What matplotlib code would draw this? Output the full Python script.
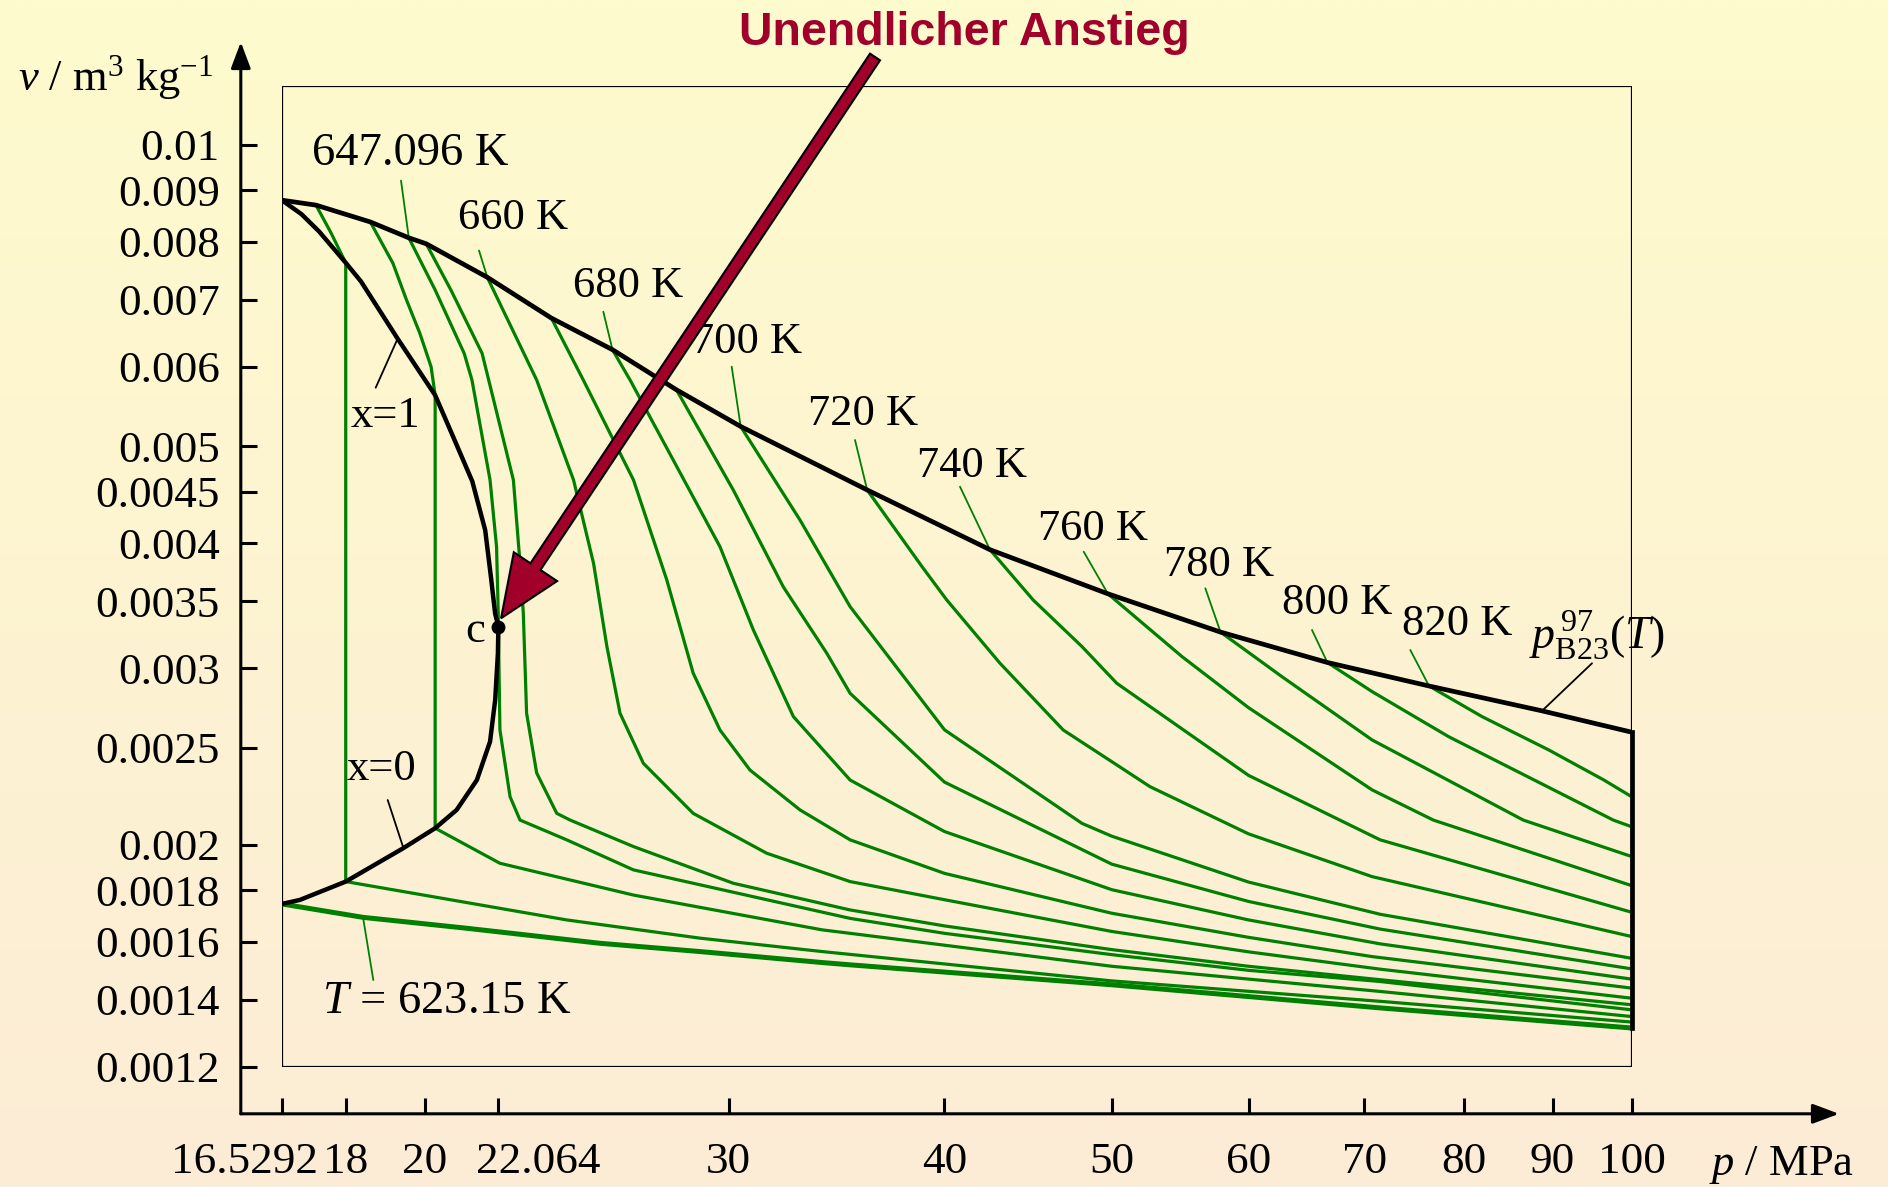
import numpy as np
import matplotlib
matplotlib.use("Agg")
import matplotlib.pyplot as plt
from matplotlib.patches import FancyArrow, Rectangle
from matplotlib.ticker import NullLocator
from matplotlib.transforms import IdentityTransform, ScaledTranslation

plt.rcParams['font.family'] = ['Liberation Serif', 'DejaVu Serif']
plt.rcParams['mathtext.fontset'] = 'custom'
plt.rcParams['mathtext.rm'] = 'Liberation Serif'
plt.rcParams['mathtext.it'] = 'Liberation Serif:italic'
plt.rcParams['mathtext.bf'] = 'Liberation Serif:bold'

W, H = 1888, 1187
GREEN = '#008000'
RED = '#A0002A'

# axis ticks (p in MPa, v in m3/kg)
x_ticks = [16.5292, 18, 20, 22.064, 30, 40, 50, 60, 70, 80, 90, 100]
x_labels = ['16.5292', '18', '20', '22.064', '30', '40', '50', '60', '70', '80', '90', '100']
y_ticks = [0.0012, 0.0014, 0.0016, 0.0018, 0.002, 0.0025, 0.003, 0.0035,
           0.004, 0.0045, 0.005, 0.006, 0.007, 0.008, 0.009, 0.01]
y_labels = ['0.0012', '0.0014', '0.0016', '0.0018', '0.002', '0.0025', '0.003', '0.0035',
            '0.004', '0.0045', '0.005', '0.006', '0.007', '0.008', '0.009', '0.01']

# boundary B23 (upper edge of region 3)
p_b23 = [16.5292, 17.30, 18.60, 19.58, 20.04, 21.74, 23.68, 25.69, 27.98, 30.48,
         36.08, 42.50, 49.74, 57.80, 66.65, 76.33, 88.74, 100.0]
v_b23 = [0.00880, 0.00870, 0.00837, 0.00807, 0.00796, 0.00737, 0.00671, 0.00624, 0.00569, 0.00523,
         0.00452, 0.00394, 0.00356, 0.00326, 0.00304, 0.00288, 0.00272, 0.00259]

# saturation lines
p_liq = [16.5292, 16.93, 18.0, 19.44, 20.28, 20.87, 21.44, 21.82, 21.97, 22.05, 22.064]
v_liq = [0.001745, 0.001761, 0.001837, 0.001984, 0.002077, 0.002166, 0.002320, 0.002534,
         0.002789, 0.003105, 0.003301]
p_vap = [16.5292, 16.97, 17.37, 18.0, 18.37, 19.29, 20.28, 20.73, 21.31, 21.68, 21.85, 21.97, 22.064]
v_vap = [0.00880, 0.00852, 0.00819, 0.00762, 0.00730, 0.00640, 0.00562, 0.00515, 0.00461,
         0.00412, 0.00369, 0.00340, 0.003301]

p_crit, v_crit = 22.064, 0.003301

# isotherms
p_623 = [16.5292, 18.42, 21.16, 25.27, 28.87, 33.98, 35.27, 40.0, 50.0, 71.51, 100]
v_623 = [0.001745, 0.001692, 0.001650, 0.001594, 0.001564, 0.001525, 0.001517, 0.001492, 0.001449,
         0.001374, 0.001312]
p_630 = [17.30, 17.64, 18.0, 18.0, 20.23, 24.17, 28.87, 33.98, 50.0, 71.51, 100]
v_630 = [0.00870, 0.008178, 0.00762, 0.001837, 0.001774, 0.001682, 0.001613, 0.001564, 0.001462,
         0.001395, 0.001330]
p_640 = [18.60, 19.17, 19.52, 19.87, 20.17, 20.28, 20.28, 22.11, 26.42, 33.98, 35.27, 50.0, 71.51, 100]
v_640 = [0.00837, 0.007611, 0.006995, 0.006480, 0.006000, 0.00562, 0.002077, 0.001916, 0.001781,
         0.001644, 0.001631, 0.001512, 0.001427, 0.001347]
p_647 = [19.58, 20.28, 21.08, 21.30, 21.82, 22.01, 22.06, 22.064, 22.11, 22.41, 22.71, 24.17, 26.42,
         35.27, 40.0, 50.0, 60.0, 71.51, 100]
v_647 = [0.00807, 0.007158, 0.006188, 0.005820, 0.004625, 0.003967, 0.003404, 0.003301, 0.002603,
         0.002233, 0.002116, 0.002022, 0.001887, 0.001688, 0.001631, 0.001553, 0.001498, 0.001460,
         0.001368]
p_650 = [20.04, 20.71, 21.59, 22.51, 22.71, 22.81, 22.91, 23.22, 23.85, 24.28, 26.42, 30.18, 35.27,
         40.0, 50.0, 60.0, 71.51, 100]
v_650 = [0.00796, 0.007158, 0.006188, 0.004625, 0.003818, 0.003404, 0.002705, 0.002358, 0.002149,
         0.002116, 0.001991, 0.001830, 0.001721, 0.001659, 0.001571, 0.001512, 0.001466, 0.001384]
p_660 = [21.74, 23.22, 24.39, 25.05, 25.50, 25.95, 26.77, 28.61, 31.55, 35.27, 40.0, 50.0, 60.0,
         71.51, 100]
v_660 = [0.00737, 0.005820, 0.004625, 0.003818, 0.003153, 0.002705, 0.002411, 0.002149, 0.001961,
         0.001837, 0.001762, 0.001638, 0.001563, 0.001502, 0.001405]
p_670 = [23.68, 24.71, 26.42, 27.62, 28.61, 29.65, 30.86, 32.99, 35.27, 40.0, 50.0, 60.0, 70.75, 100]
v_670 = [0.00671, 0.005820, 0.004625, 0.003675, 0.002966, 0.002603, 0.002374, 0.002166, 0.002022,
         0.001872, 0.001708, 0.001616, 0.001546, 0.001438]
p_680 = [25.69, 26.30, 29.65, 31.00, 32.70, 35.27, 40.0, 50.0, 60.0, 71.51, 100]
v_680 = [0.00624, 0.005820, 0.003967, 0.003276, 0.002684, 0.002320, 0.002061, 0.001803, 0.001682,
         0.001592, 0.001468]
p_690 = [27.98, 30.18, 32.26, 34.19, 35.27, 40.0, 50.0, 60.0, 71.51, 100]
v_690 = [0.00569, 0.004520, 0.003618, 0.003105, 0.002832, 0.002309, 0.001912, 0.001755, 0.001647,
         0.001503]
p_700 = [30.48, 32.99, 35.27, 40.0, 48.05, 50.0, 60.0, 71.51, 100]
v_700 = [0.00523, 0.004218, 0.003456, 0.002604, 0.002100, 0.002039, 0.001835, 0.001704, 0.001540]
p_720 = [36.08, 38.82, 40.12, 43.07, 46.86, 50.0, 52.61, 60.0, 70.75, 100]
v_720 = [0.00452, 0.003789, 0.003510, 0.003035, 0.002603, 0.002420, 0.002285, 0.002050, 0.001858,
         0.001619]
p_740 = [42.50, 45.02, 48.05, 50.33, 60.0, 71.51, 100]
v_740 = [0.00394, 0.003510, 0.003153, 0.002898, 0.002345, 0.002022, 0.001712]
p_760 = [49.74, 54.91, 60.0, 70.75, 76.77, 100]
v_760 = [0.00356, 0.003081, 0.00274, 0.002268, 0.002116, 0.001820]
p_780 = [57.80, 62.74, 70.75, 86.55, 100]
v_780 = [0.00326, 0.002942, 0.002544, 0.002116, 0.001946]
p_800 = [66.65, 70.75, 78.36, 97.59, 100]
v_800 = [0.00304, 0.002843, 0.002563, 0.002116, 0.002084]
p_820 = [76.33, 81.93, 89.55, 96.38, 100]
v_820 = [0.00288, 0.002684, 0.002486, 0.002320, 0.002233]

isotherms = [(p_630, v_630), (p_640, v_640), (p_647, v_647), (p_650, v_650), (p_660, v_660),
             (p_670, v_670), (p_680, v_680), (p_690, v_690), (p_700, v_700), (p_720, v_720),
             (p_740, v_740), (p_760, v_760), (p_780, v_780), (p_800, v_800), (p_820, v_820)]

fig = plt.figure(figsize=(W / 100, H / 100), dpi=100)

# pale yellow -> peach background
bg = fig.add_axes([0, 0, 1, 1], zorder=-5)
c_top = np.array([254, 251, 205]) / 255
c_bot = np.array([252, 236, 214]) / 255
t = np.linspace(0, 1, 512)[:, None, None]
bg.imshow(c_top * (1 - t) + c_bot * t, aspect='auto', extent=[0, 1, 0, 1])
bg.set_axis_off()

L, R, TOP, BOT = 281.8, 1631.6, 85.5, 1066.8
ax = fig.add_axes([L / W, 1 - BOT / H, (R - L) / W, (BOT - TOP) / H])
ax.set_facecolor('none')
ax.set_xscale('log')
ax.set_yscale('log')
ax.set_xlim(16.5292, 100)
ax.set_ylim(0.0012, 0.011454)

for s in ax.spines.values():
    s.set_visible(False)
ax.spines['left'].set_position(('outward', 41 * 0.72))
ax.spines['bottom'].set_position(('outward', 47 * 0.72))
ax.set_xticks(x_ticks, x_labels)
ax.set_yticks(y_ticks, y_labels)
ax.xaxis.set_minor_locator(NullLocator())
ax.yaxis.set_minor_locator(NullLocator())
ax.tick_params(direction='in', length=11.5, width=2.2, labelsize=32.5)
ax.tick_params(axis='x', pad=20)
ax.tick_params(axis='y', pad=15)

# the first and the critical-pressure labels are nudged apart so they do not collide
xt = ax.xaxis.get_major_ticks()
for i, dx in [(0, -37), (3, 40)]:
    lab = xt[i].label1
    lab.set_transform(lab.get_transform() + ScaledTranslation(dx / 100, 0, fig.dpi_scale_trans))

# axis lines with arrow heads
arrow_kw = dict(arrowstyle='-|>,head_length=0.8,head_width=0.3', lw=2.2, color='k',
                shrinkA=0, shrinkB=0, mutation_scale=20)
ax.annotate('', xy=(240.8, H - 42), xytext=(240.8, H - 1113.8), xycoords='figure pixels',
            arrowprops=arrow_kw)
ax.annotate('', xy=(1839, H - 1113.8), xytext=(240.8, H - 1113.8), xycoords='figure pixels',
            arrowprops=arrow_kw)

ax.add_patch(Rectangle((0, 0), 1, 1, transform=ax.transAxes, fill=False, lw=1.6, ec='k', zorder=1))

ax.plot(p_623, v_623, color=GREEN, lw=3.6, zorder=3, solid_joinstyle='round')
for p, v in isotherms:
    ax.plot(p, v, color=GREEN, lw=2.3, zorder=3, solid_joinstyle='round')

ax.plot(p_b23, v_b23, color='k', lw=3.4, zorder=4, solid_joinstyle='round')
ax.plot(p_liq, v_liq, color='k', lw=3.2, zorder=4, solid_joinstyle='round')
ax.plot(p_vap, v_vap, color='k', lw=3.2, zorder=4, solid_joinstyle='round')
ax.plot([100, 100], [v_b23[-1], v_623[-1]], color='k', lw=3.4, zorder=4, clip_on=False)
ax.plot(p_crit, v_crit, 'o', color='k', ms=9, zorder=6)


def put(x, y, s, **kw):
    kw.setdefault('fontsize', 32)
    kw.setdefault('ha', 'left')
    kw.setdefault('va', 'baseline')
    fig.text(x / W, 1 - y / H, s, **kw)


def pointer(x, y, p, v, color=GREEN, lw=1.3):
    ax.annotate('', xy=(p, v), xycoords='data', xytext=(x, H - y), textcoords='figure pixels',
                arrowprops=dict(arrowstyle='-', color=color, lw=lw, shrinkA=0, shrinkB=0))


put(312.5, 165, '647.096 K', fontsize=33.5)
put(457.6, 229, '660 K')
put(573.3, 296.7, '680 K')
put(691.5, 353, '700 K')
put(808.3, 425, '720 K')
put(916.7, 476.7, '740 K')
put(1038, 540, '760 K')
put(1163.7, 576, '780 K')
put(1282, 614, '800 K')
put(1402, 635, '820 K')
put(1529, 650, r'$p_{\mathrm{B23}}^{\,97}(T)$', fontsize=33)
put(350.4, 426.7, 'x=1')
put(347, 780, 'x=0')
put(321.7, 1013.3, r'$T$ = 623.15 K', fontsize=33.5)
put(465, 641.7, 'c')
put(18, 90, r'$v$ / m$^3$ kg$^{-1}$')
put(1709, 1175, r'$p$ / MPa')
put(964, 45, 'Unendlicher Anstieg', family='Liberation Sans', weight='bold', color=RED,
    fontsize=33.5, ha='center')

pointer(401, 180.6, p_647[0], v_647[0])
pointer(479, 250.5, p_660[0], v_660[0])
pointer(603.3, 311.7, p_680[0], v_680[0])
pointer(731.7, 366.7, p_700[0], v_700[0])
pointer(855, 440, p_720[0], v_720[0])
pointer(960, 486.7, p_740[0], v_740[0])
pointer(1083.7, 551.7, p_760[0], v_760[0])
pointer(1205.3, 588.3, p_780[0], v_780[0])
pointer(1312, 630, p_800[0], v_800[0])
pointer(1410.3, 650, p_820[0], v_820[0])
pointer(373.3, 980, p_623[1], v_623[1])
pointer(375.7, 387.7, p_vap[5], v_vap[5], color='k')
pointer(387.7, 800, p_liq[3], v_liq[3], color='k')
pointer(1592, 663.3, p_b23[-2], v_b23[-2], color='k')

# arrow pointing at the critical point
tip = ax.transData.transform((p_crit, v_crit)) + np.array([2.7, 8.4])
tail = ax.transData.transform((36.46, 0.01223))
fig.add_artist(FancyArrow(tail[0], tail[1], tip[0] - tail[0], tip[1] - tail[1], width=12,
                          head_width=52, head_length=62, length_includes_head=True,
                          fc=RED, ec='k', lw=1.5, transform=IdentityTransform(), zorder=10))

fig.savefig('out.png', dpi=100)
